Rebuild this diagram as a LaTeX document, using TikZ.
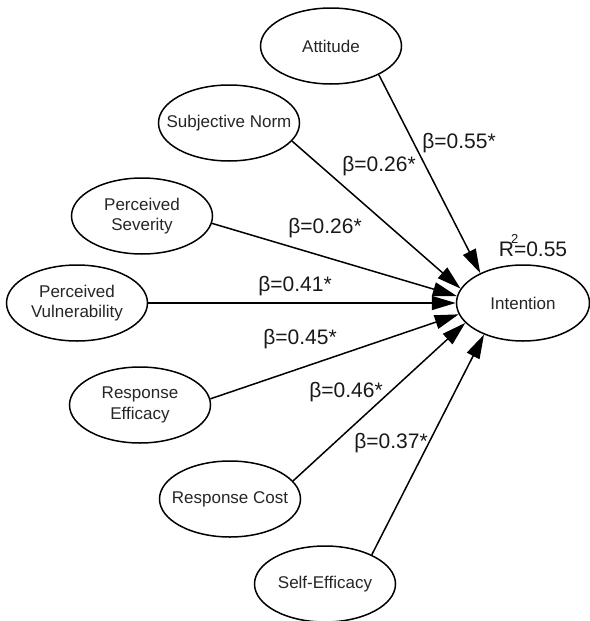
\documentclass[tikz,border=0pt]{standalone}
\usepackage{fontspec}
\setmainfont{Liberation Sans}
\usetikzlibrary{shapes.geometric,arrows.meta}
\begin{document}
\begin{tikzpicture}[x=1pt,y=-1pt,
  construct/.style={draw=black, line width=1.5pt, ellipse, inner sep=0pt,
    minimum width=141pt, minimum height=76pt},
  ctext/.style={font=\fontsize{17}{20.5}\selectfont, align=center, text=black!85},
  coef/.style={font=\fontsize{21}{24}\selectfont, inner sep=0pt, text=black!90},
  path/.style={line width=1.5pt, -{Triangle[length=24pt,width=14pt]}}]
\useasboundingbox (0,0) rectangle (589,621);
\fill[white] (0,0) rectangle (589,621);
\node[construct, label={[ctext]center:Attitude}] (att) at (331,46) {};
\node[construct, label={[ctext]center:Subjective Norm}] (sn) at (229,123) {};
\node[construct, label={[ctext]center:Perceived\\Severity}] (ps) at (142,216) {};
\node[construct, label={[ctext]center:Perceived\\Vulnerability}] (pv) at (77,303) {};
\node[construct, label={[ctext]center:Response\\Efficacy}] (re) at (140,405) {};
\node[construct, label={[ctext]center:Response Cost}] (rc) at (230,499) {};
\node[construct, label={[ctext]center:Self-Efficacy}] (se) at (325,584) {};
\node[construct, minimum width=133pt, label={[ctext]center:Intention}] (int) at (523,303) {};

\draw[path] (att.-31) -- (int.145);
\draw[path] (sn.-16) -- (int.167);
\draw[path] (ps.-6.5) -- (int.174);
\draw[path] (pv.0) -- (int.180);
\draw[path] (re.5.7) -- (int.-170);
\draw[path] (rc.16) -- (int.-161);
\draw[path] (se.32.5) -- (int.-141.5);

\node[coef] (l1) at (459,143) {β=0.55*};
\node[coef] (l2) at (379,166) {β=0.26*};
\node[coef] (l3) at (325,228) {β=0.26*};
\node[coef] (l4) at (295,286) {β=0.41*};
\node[coef] (l5) at (300,339) {β=0.45*};
\node[coef] (l6) at (346,392) {β=0.46*};
\node[coef] (l7) at (391,443) {β=0.37*};
\node[coef] (r2) at (533,246) {R\kern-3pt\rlap{\raisebox{0.62em}{\fontsize{13}{13}\selectfont 2}}\kern3pt=0.55};
\end{tikzpicture}
\end{document}
